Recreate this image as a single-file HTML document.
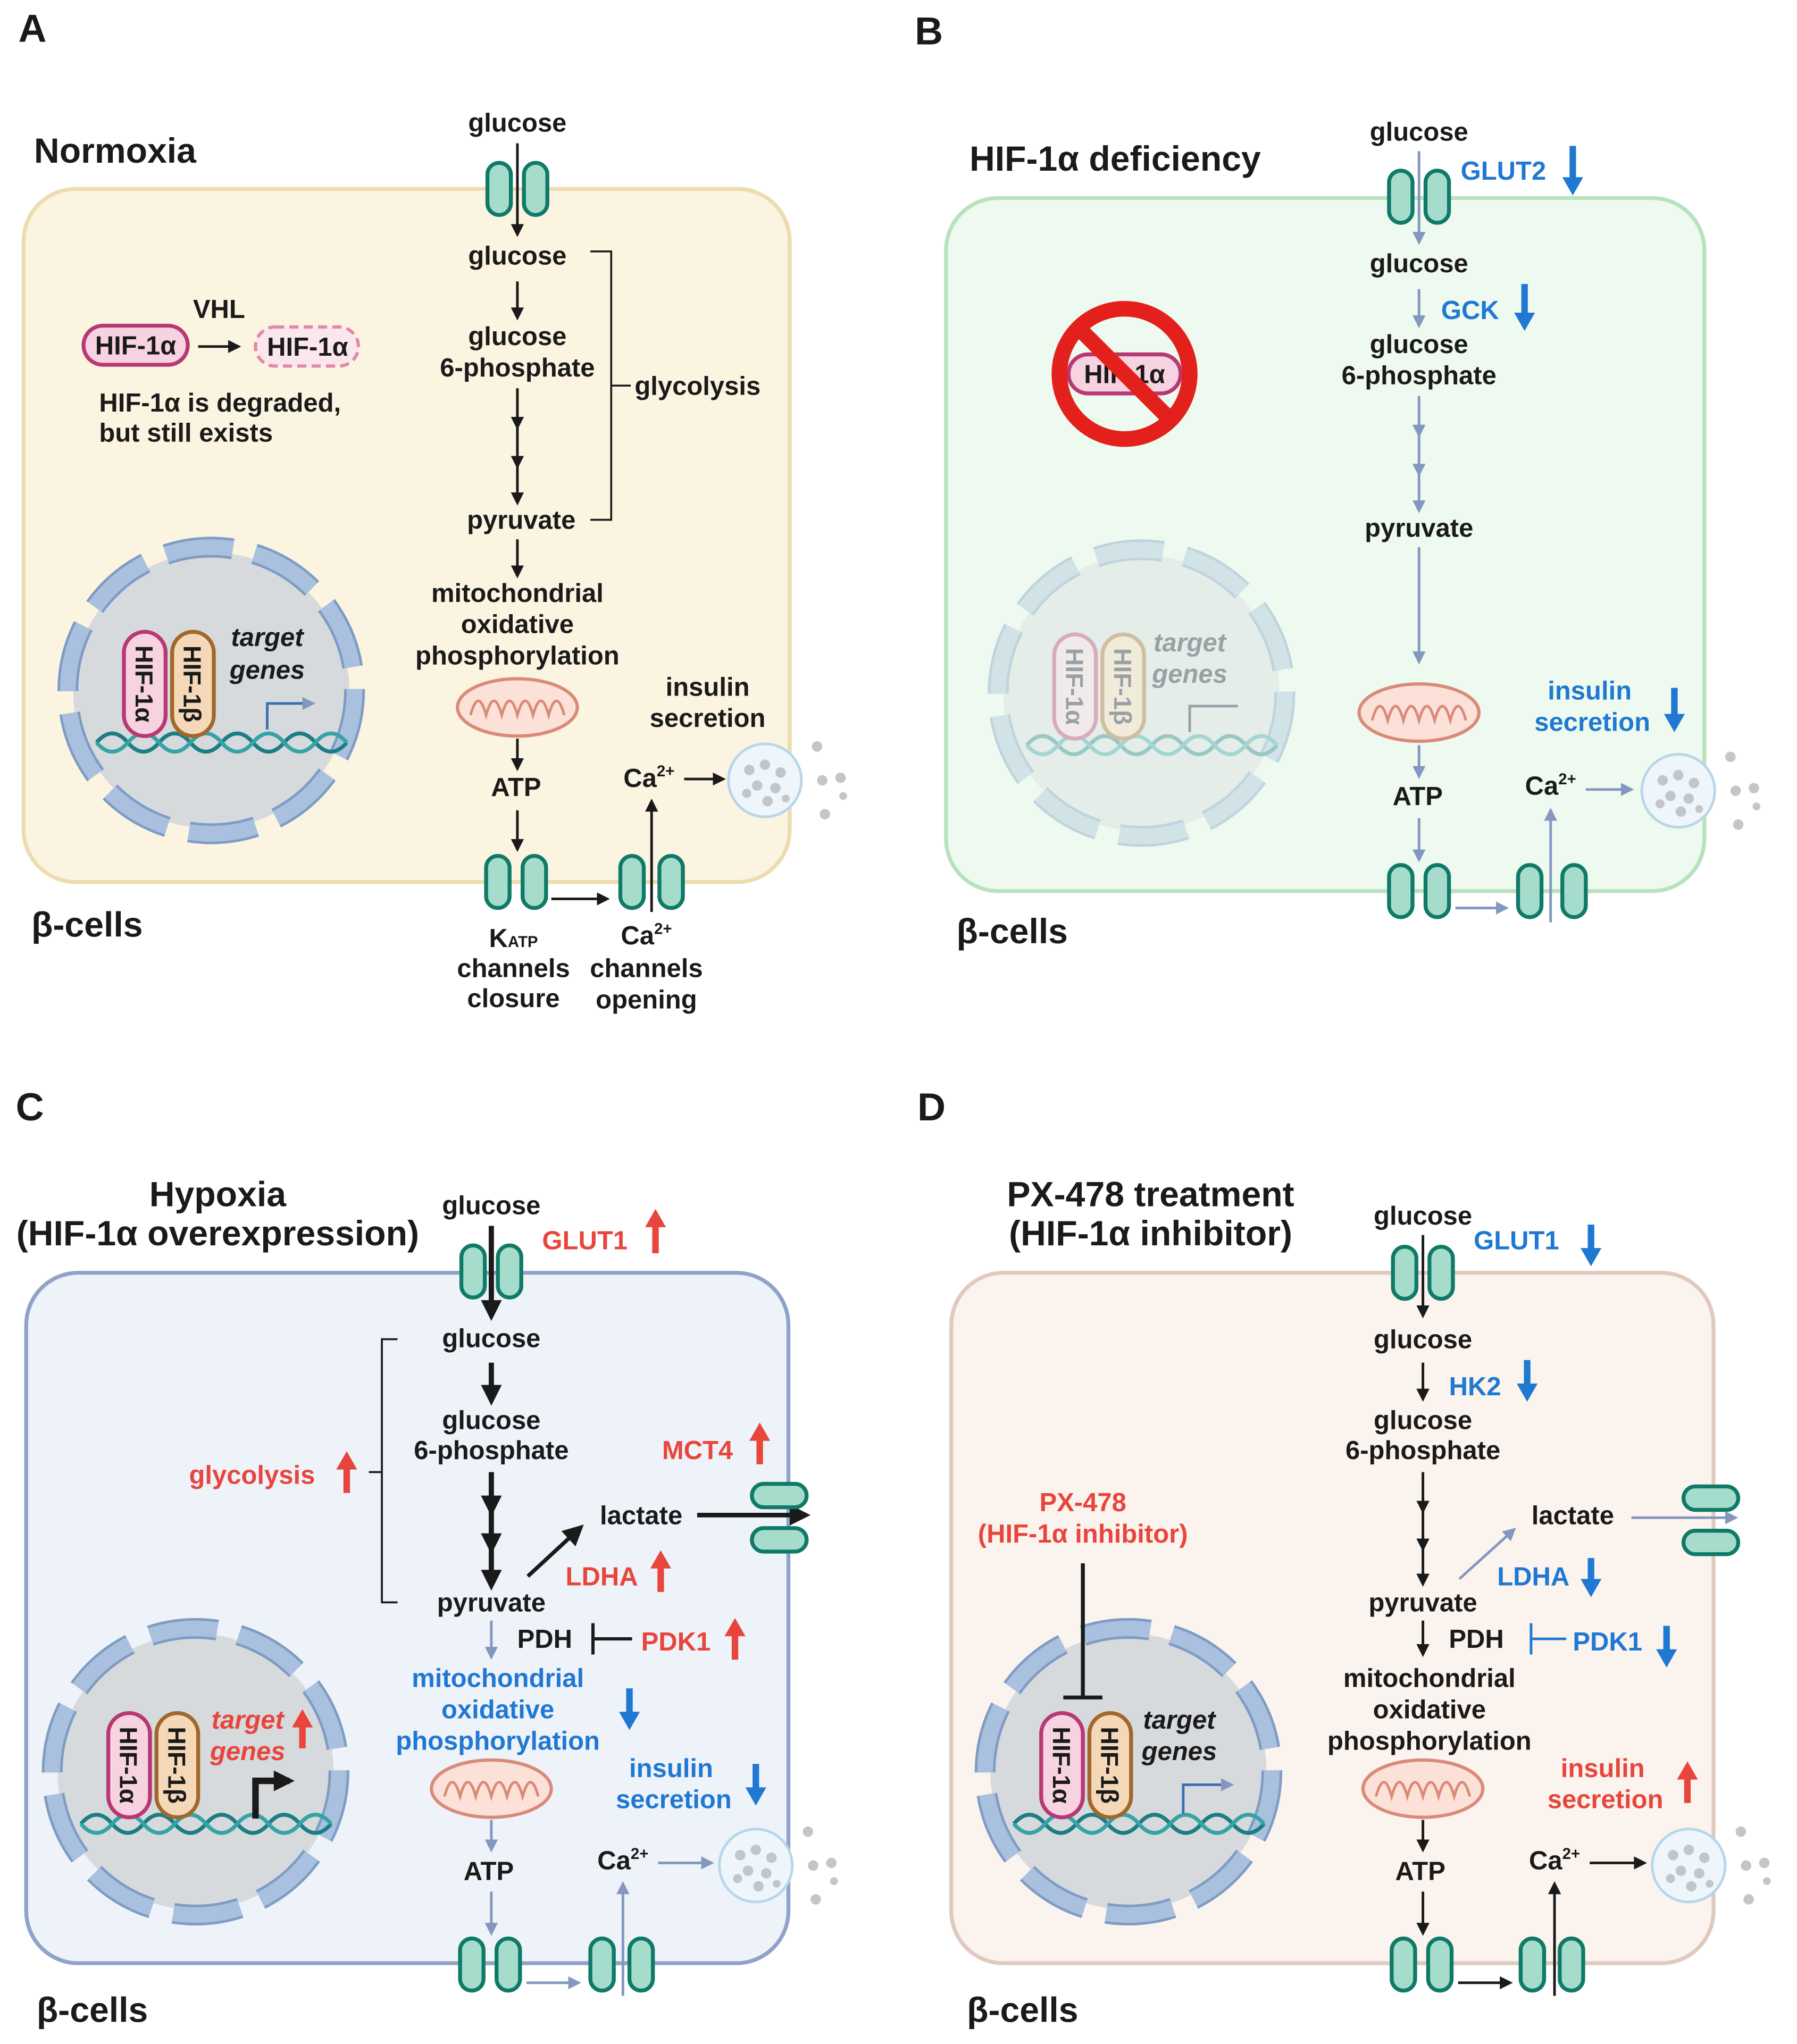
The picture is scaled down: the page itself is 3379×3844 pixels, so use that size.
<!DOCTYPE html>
<html><head><meta charset="utf-8"><style>
html,body{margin:0;padding:0;background:#fff}
svg{display:block}
text{font-family:"Liberation Sans",Arial,sans-serif;font-weight:bold;font-size:20px;text-anchor:middle;fill:#1a1a1a}
.l{text-anchor:start}
.b{fill:#1f78d1}.r{fill:#e8453c}.g{fill:#9aa0a6}
.t{font-size:27px}
.P{font-size:28px;text-anchor:start}
.i{font-style:italic}
</style></head><body>
<svg width="3379" height="3844" viewBox="0 0 1379 1569" xmlns="http://www.w3.org/2000/svg">
<defs>
<marker id="mk" markerWidth="10" markerHeight="10" refX="8" refY="5" orient="auto" markerUnits="userSpaceOnUse"><path d="M0,0L10,5L0,10z" fill="#1a1a1a"/></marker>
<marker id="mg" markerWidth="10" markerHeight="10" refX="8" refY="5" orient="auto" markerUnits="userSpaceOnUse"><path d="M0,0L10,5L0,10z" fill="#8497c0"/></marker>
<marker id="mK" markerWidth="16" markerHeight="16" refX="12" refY="8" orient="auto" markerUnits="userSpaceOnUse"><path d="M0,0L16,8L0,16z" fill="#1a1a1a"/></marker>
<g id="pill"><rect x="-9" y="-20" width="18" height="40" rx="9" fill="#a6dccb" stroke="#0f7a68" stroke-width="3"/></g>
<g id="tp"><use href="#pill" x="-14"/><use href="#pill" x="14"/></g>
<g id="hp"><rect x="-21" y="-9" width="42" height="18" rx="9" fill="#a6dccb" stroke="#0f7a68" stroke-width="3"/></g>
<g id="mito"><ellipse rx="46" ry="22" fill="#fbe1d8" stroke="#d98a78" stroke-width="2.5"/><path d="M-36,6 q6,-22 12,0 q6,-22 12,0 q6,-22 12,0 q6,-22 12,0 q6,-22 12,0 q6,-22 12,0" fill="none" stroke="#d98a78" stroke-width="2"/></g>
<g id="ves"><circle r="28" fill="#eef6fb" stroke="#b8d6ea" stroke-width="2"/>
<g fill="#c2c6ca"><circle cx="-12" cy="-8" r="4"/><circle cx="0" cy="-12" r="4"/><circle cx="12" cy="-6" r="4"/><circle cx="-6" cy="4" r="4"/><circle cx="8" cy="6" r="4"/><circle cx="-14" cy="10" r="3.5"/><circle cx="2" cy="16" r="4"/><circle cx="16" cy="14" r="3"/></g>
<g fill="#c2c6ca"><circle cx="40" cy="-26" r="4"/><circle cx="44" cy="0" r="4"/><circle cx="58" cy="-2" r="4"/><circle cx="46" cy="26" r="4"/><circle cx="60" cy="12" r="3"/></g></g>
<g id="nuc"><circle r="106" fill="#d7dadd"/><circle r="110" fill="none" stroke="#7e9cc4" stroke-width="16" stroke-dasharray="52 17"/><circle r="110" fill="none" stroke="#a9c1de" stroke-width="12" stroke-dasharray="52 17"/>
<path d="M-88,40 q12,-14 24,0 t24,0 t24,0 t24,0 t24,0 t24,0 t24,0 t24,0" fill="none" stroke="#1d7d86" stroke-width="3"/>
<path d="M-88,40 q12,14 24,0 t24,0 t24,0 t24,0 t24,0 t24,0 t24,0 t24,0" fill="none" stroke="#36a3a6" stroke-width="3"/>
<rect x="-67" y="-45" width="32" height="80" rx="16" fill="#f7d3e2" stroke="#b83873" stroke-width="3"/>
<rect x="-30" y="-45" width="32" height="80" rx="16" fill="#f5d8b8" stroke="#a2672a" stroke-width="3"/></g>
</defs>

<!-- PANEL A -->
<text x="14" y="32" class="P" style="font-size:30px">A</text>
<text x="26" y="125" class="t l">Normoxia</text>
<rect x="18" y="145" width="588" height="532" rx="40" fill="#fbf4e0" stroke="#ecdcae" stroke-width="3"/>
<text x="24" y="719" class="t l">β-cells</text>
<text x="397" y="101">glucose</text>
<use href="#tp" x="397" y="145"/>
<line x1="397" y1="110" x2="397" y2="180" stroke="#1a1a1a" stroke-width="2" marker-end="url(#mk)"/>
<text x="397" y="203">glucose</text>
<line x1="397" y1="216" x2="397" y2="244" stroke="#1a1a1a" stroke-width="2" marker-end="url(#mk)"/>
<text x="397" y="265">glucose</text><text x="397" y="289">6-phosphate</text>
<g stroke="#1a1a1a" stroke-width="2"><line x1="397" y1="298" x2="397" y2="328" marker-end="url(#mk)"/><line x1="397" y1="328" x2="397" y2="358" marker-end="url(#mk)"/><line x1="397" y1="358" x2="397" y2="386" marker-end="url(#mk)"/></g>
<text x="400" y="406">pyruvate</text>
<path d="M453,193H469V399H453M469,296H484" fill="none" stroke="#1a1a1a" stroke-width="1.5"/>
<text x="487" y="303" class="l">glycolysis</text>
<line x1="397" y1="414" x2="397" y2="442" stroke="#1a1a1a" stroke-width="2" marker-end="url(#mk)"/>
<text x="397" y="462">mitochondrial</text><text x="397" y="486">oxidative</text><text x="397" y="510">phosphorylation</text>
<use href="#mito" x="397" y="543"/>
<line x1="397" y1="567" x2="397" y2="590" stroke="#1a1a1a" stroke-width="2" marker-end="url(#mk)"/>
<text x="396" y="611">ATP</text>
<line x1="397" y1="622" x2="397" y2="652" stroke="#1a1a1a" stroke-width="2" marker-end="url(#mk)"/>
<use href="#tp" x="396" y="677"/>
<use href="#pill" x="485" y="677"/><use href="#pill" x="515" y="677"/>
<line x1="423" y1="690" x2="466" y2="690" stroke="#1a1a1a" stroke-width="2" marker-end="url(#mk)"/>
<line x1="500" y1="700" x2="500" y2="615" stroke="#1a1a1a" stroke-width="2" marker-end="url(#mk)"/>
<text x="394" y="727">K<tspan font-size="12">ATP</tspan></text><text x="394" y="750">channels</text><text x="394" y="773">closure</text>
<text x="496" y="725">Ca<tspan font-size="12" dy="-8">2+</tspan></text><text x="496" y="750">channels</text><text x="496" y="774">opening</text>
<text x="498" y="604">Ca<tspan font-size="12" dy="-8">2+</tspan></text>
<line x1="525" y1="598" x2="555" y2="598" stroke="#1a1a1a" stroke-width="2" marker-end="url(#mk)"/>
<use href="#ves" x="587" y="599"/>
<text x="543" y="534">insulin</text><text x="543" y="558">secretion</text>
<rect x="64" y="250" width="80" height="30" rx="15" fill="#f7d3e2" stroke="#b83873" stroke-width="3"/>
<text x="104" y="272">HIF-1α</text>
<line x1="152" y1="266" x2="183" y2="266" stroke="#1a1a1a" stroke-width="2" marker-end="url(#mk)"/>
<text x="168" y="244">VHL</text>
<rect x="196" y="251" width="79" height="30" rx="15" fill="#fbe6ee" stroke="#e08aa8" stroke-width="2.5" stroke-dasharray="7 4"/>
<text x="236" y="273">HIF-1α</text>
<text x="76" y="316" class="l">HIF-1α is degraded,</text><text x="76" y="339" class="l">but still exists</text>
<use href="#nuc" x="162" y="530"/>
<text transform="translate(104,525) rotate(90)" style="font-size:19px">HIF-1α</text>
<text transform="translate(141,525) rotate(90)" style="font-size:19px">HIF-1β</text>
<text x="205" y="496" class="i">target</text><text x="205" y="521" class="i">genes</text>
<path d="M205,560V540H240" fill="none" stroke="#3a6fb5" stroke-width="2" marker-end="url(#mg)"/>

<!-- PANEL B -->
<text x="702" y="34" class="P" style="font-size:30px">B</text>
<text x="744" y="131" class="t l">HIF-1α deficiency</text>
<rect x="726" y="152" width="582" height="532" rx="40" fill="#eefaf0" stroke="#b8e2bc" stroke-width="3"/>
<text x="734" y="724" class="t l">β-cells</text>
<text x="1089" y="108">glucose</text>
<use href="#tp" x="1089" y="151"/>
<line x1="1089" y1="116" x2="1089" y2="186" stroke="#8497c0" stroke-width="2" marker-end="url(#mg)"/>
<text x="1121" y="138" class="b l">GLUT2</text>
<path d="M1207,112V140" stroke="#1f78d1" stroke-width="5"/><path d="M1199,136L1207,150L1215,136z" fill="#1f78d1"/>
<text x="1089" y="209">glucose</text>
<line x1="1089" y1="222" x2="1089" y2="250" stroke="#8497c0" stroke-width="2" marker-end="url(#mg)"/>
<text x="1106" y="245" class="b l">GCK</text>
<path d="M1170,218V244" stroke="#1f78d1" stroke-width="5"/><path d="M1162,240L1170,254L1178,240z" fill="#1f78d1"/>
<text x="1089" y="271">glucose</text><text x="1089" y="295">6-phosphate</text>
<g stroke="#8497c0" stroke-width="2"><line x1="1089" y1="304" x2="1089" y2="334" marker-end="url(#mg)"/><line x1="1089" y1="334" x2="1089" y2="364" marker-end="url(#mg)"/><line x1="1089" y1="364" x2="1089" y2="392" marker-end="url(#mg)"/></g>
<text x="1089" y="412">pyruvate</text>
<line x1="1089" y1="420" x2="1089" y2="508" stroke="#8497c0" stroke-width="2" marker-end="url(#mg)"/>
<use href="#mito" x="1089" y="547"/>
<line x1="1089" y1="572" x2="1089" y2="596" stroke="#8497c0" stroke-width="2" marker-end="url(#mg)"/>
<text x="1088" y="618">ATP</text>
<line x1="1089" y1="628" x2="1089" y2="660" stroke="#8497c0" stroke-width="2" marker-end="url(#mg)"/>
<use href="#tp" x="1089" y="684"/>
<use href="#pill" x="1174" y="684"/><use href="#pill" x="1208" y="684"/>
<line x1="1117" y1="697" x2="1156" y2="697" stroke="#8497c0" stroke-width="2" marker-end="url(#mg)"/>
<line x1="1190" y1="708" x2="1190" y2="622" stroke="#8497c0" stroke-width="2" marker-end="url(#mg)"/>
<text x="1190" y="610">Ca<tspan font-size="12" dy="-8">2+</tspan></text>
<line x1="1217" y1="606" x2="1252" y2="606" stroke="#8497c0" stroke-width="2" marker-end="url(#mg)"/>
<use href="#ves" x="1288" y="607"/>
<text x="1220" y="537" class="b">insulin</text><text x="1222" y="561" class="b">secretion</text>
<path d="M1285,528V552" stroke="#1f78d1" stroke-width="5"/><path d="M1277,548L1285,562L1293,548z" fill="#1f78d1"/>
<g opacity="0.4"><use href="#nuc" x="876" y="532"/></g>
<text transform="translate(818,527) rotate(90)" style="font-size:19px" class="g">HIF-1α</text>
<text transform="translate(855,527) rotate(90)" style="font-size:19px" class="g">HIF-1β</text>
<text x="913" y="500" class="i g">target</text><text x="913" y="524" class="i g">genes</text>
<path d="M913,562V542H950" fill="none" stroke="#9aa0a6" stroke-width="2"/>
<rect x="820" y="272" width="86" height="30" rx="15" fill="#f7d3e2" stroke="#b83873" stroke-width="3"/>
<text x="863" y="294">HIF-1α</text>
<circle cx="863" cy="287" r="50" fill="none" stroke="#e3201b" stroke-width="12"/>
<line x1="828" y1="252" x2="898" y2="322" stroke="#e3201b" stroke-width="12"/>

<!-- PANEL C -->
<text x="12" y="860" class="P" style="font-size:30px">C</text>
<text x="167" y="926" class="t">Hypoxia</text><text x="167" y="956" class="t">(HIF-1α overexpression)</text>
<rect x="20" y="977" width="585" height="530" rx="40" fill="#eef2f9" stroke="#8fa3c8" stroke-width="3"/>
<text x="28" y="1552" class="t l">β-cells</text>
<text x="377" y="932">glucose</text>
<use href="#tp" x="377" y="976"/>
<line x1="377" y1="941" x2="377" y2="1010" stroke="#1a1a1a" stroke-width="4" marker-end="url(#mK)"/>
<text x="416" y="959" class="r l">GLUT1</text>
<path d="M503,962V938" stroke="#e8453c" stroke-width="5"/><path d="M495,942L503,928L511,942z" fill="#e8453c"/>
<text x="377" y="1034">glucose</text>
<line x1="377" y1="1046" x2="377" y2="1075" stroke="#1a1a1a" stroke-width="4" marker-end="url(#mK)"/>
<text x="377" y="1097">glucose</text><text x="377" y="1120">6-phosphate</text>
<g stroke="#1a1a1a" stroke-width="4"><line x1="377" y1="1130" x2="377" y2="1160" marker-end="url(#mK)"/><line x1="377" y1="1160" x2="377" y2="1189" marker-end="url(#mK)"/><line x1="377" y1="1189" x2="377" y2="1217" marker-end="url(#mK)"/></g>
<text x="377" y="1237">pyruvate</text>
<path d="M305,1028H293V1230H305M293,1130H283" fill="none" stroke="#1a1a1a" stroke-width="1.5"/>
<text x="145" y="1139" class="r l">glycolysis</text>
<path d="M266,1146V1124" stroke="#e8453c" stroke-width="5"/><path d="M258,1128L266,1114L274,1128z" fill="#e8453c"/>
<line x1="405" y1="1210" x2="445" y2="1173" stroke="#1a1a1a" stroke-width="3" marker-end="url(#mK)"/>
<text x="492" y="1170">lactate</text>
<line x1="535" y1="1163" x2="618" y2="1163" stroke="#1a1a1a" stroke-width="3.5" marker-end="url(#mK)"/>
<use href="#hp" x="598" y="1148"/><use href="#hp" x="598" y="1182"/>
<text x="508" y="1120" class="r l">MCT4</text>
<path d="M583,1124V1102" stroke="#e8453c" stroke-width="5"/><path d="M575,1106L583,1092L591,1106z" fill="#e8453c"/>
<text x="434" y="1217" class="r l">LDHA</text>
<path d="M507,1222V1200" stroke="#e8453c" stroke-width="5"/><path d="M499,1204L507,1190L515,1204z" fill="#e8453c"/>
<line x1="377" y1="1244" x2="377" y2="1272" stroke="#8497c0" stroke-width="2" marker-end="url(#mg)"/>
<text x="418" y="1265">PDH</text>
<path d="M455,1246V1270M455,1258H485" stroke="#1a1a1a" stroke-width="2.5"/>
<text x="492" y="1267" class="r l">PDK1</text>
<path d="M564,1274V1252" stroke="#e8453c" stroke-width="5"/><path d="M556,1256L564,1242L572,1256z" fill="#e8453c"/>
<text x="382" y="1295" class="b">mitochondrial</text><text x="382" y="1319" class="b">oxidative</text><text x="382" y="1343" class="b">phosphorylation</text>
<path d="M483,1296V1318" stroke="#1f78d1" stroke-width="5"/><path d="M475,1314L483,1328L491,1314z" fill="#1f78d1"/>
<use href="#mito" x="377" y="1373"/>
<line x1="377" y1="1397" x2="377" y2="1420" stroke="#8497c0" stroke-width="2" marker-end="url(#mg)"/>
<text x="375" y="1443">ATP</text>
<line x1="377" y1="1452" x2="377" y2="1484" stroke="#8497c0" stroke-width="2" marker-end="url(#mg)"/>
<use href="#tp" x="376" y="1508"/>
<use href="#pill" x="462" y="1508"/><use href="#pill" x="492" y="1508"/>
<line x1="404" y1="1522" x2="444" y2="1522" stroke="#8497c0" stroke-width="2" marker-end="url(#mg)"/>
<line x1="478" y1="1532" x2="478" y2="1446" stroke="#8497c0" stroke-width="2" marker-end="url(#mg)"/>
<text x="478" y="1435">Ca<tspan font-size="12" dy="-8">2+</tspan></text>
<line x1="505" y1="1430" x2="546" y2="1430" stroke="#8497c0" stroke-width="2" marker-end="url(#mg)"/>
<use href="#ves" x="580" y="1432"/>
<text x="515" y="1364" class="b">insulin</text><text x="517" y="1388" class="b">secretion</text>
<path d="M580,1354V1376" stroke="#1f78d1" stroke-width="5"/><path d="M572,1372L580,1386L588,1372z" fill="#1f78d1"/>
<use href="#nuc" x="150" y="1360"/>
<text transform="translate(92,1355) rotate(90)" style="font-size:19px">HIF-1α</text>
<text transform="translate(129,1355) rotate(90)" style="font-size:19px">HIF-1β</text>
<text x="190" y="1327" class="i r">target</text><text x="190" y="1351" class="i r">genes</text>
<path d="M232,1342V1322" stroke="#e8453c" stroke-width="5"/><path d="M224,1326L232,1312L240,1326z" fill="#e8453c"/>
<path d="M196,1396V1367H222" fill="none" stroke="#1a1a1a" stroke-width="5" marker-end="url(#mK)"/>

<!-- PANEL D -->
<text x="704" y="860" class="P" style="font-size:30px">D</text>
<text x="883" y="926" class="t">PX-478 treatment</text><text x="883" y="956" class="t">(HIF-1α inhibitor)</text>
<rect x="730" y="977" width="585" height="530" rx="40" fill="#fbf3ee" stroke="#e0c9bd" stroke-width="3"/>
<text x="742" y="1552" class="t l">β-cells</text>
<text x="1092" y="940">glucose</text>
<use href="#tp" x="1092" y="977"/>
<line x1="1092" y1="948" x2="1092" y2="1010" stroke="#1a1a1a" stroke-width="2" marker-end="url(#mk)"/>
<text x="1131" y="959" class="b l">GLUT1</text>
<path d="M1221,940V962" stroke="#1f78d1" stroke-width="5"/><path d="M1213,958L1221,972L1229,958z" fill="#1f78d1"/>
<text x="1092" y="1035">glucose</text>
<line x1="1092" y1="1046" x2="1092" y2="1074" stroke="#1a1a1a" stroke-width="2" marker-end="url(#mk)"/>
<text x="1112" y="1071" class="b l">HK2</text>
<path d="M1172,1044V1066" stroke="#1f78d1" stroke-width="5"/><path d="M1164,1062L1172,1076L1180,1062z" fill="#1f78d1"/>
<text x="1092" y="1097">glucose</text><text x="1092" y="1120">6-phosphate</text>
<g stroke="#1a1a1a" stroke-width="2"><line x1="1092" y1="1130" x2="1092" y2="1160" marker-end="url(#mk)"/><line x1="1092" y1="1160" x2="1092" y2="1189" marker-end="url(#mk)"/><line x1="1092" y1="1189" x2="1092" y2="1216" marker-end="url(#mk)"/></g>
<text x="1092" y="1237">pyruvate</text>
<line x1="1120" y1="1212" x2="1162" y2="1174" stroke="#8497c0" stroke-width="2" marker-end="url(#mg)"/>
<text x="1207" y="1170">lactate</text>
<line x1="1252" y1="1165" x2="1332" y2="1165" stroke="#8497c0" stroke-width="2" marker-end="url(#mg)"/>
<use href="#hp" x="1313" y="1150"/><use href="#hp" x="1313" y="1184"/>
<text x="1149" y="1217" class="b l">LDHA</text>
<path d="M1221,1196V1216" stroke="#1f78d1" stroke-width="5"/><path d="M1213,1212L1221,1226L1229,1212z" fill="#1f78d1"/>
<line x1="1092" y1="1244" x2="1092" y2="1270" stroke="#1a1a1a" stroke-width="2" marker-end="url(#mk)"/>
<text x="1133" y="1265">PDH</text>
<path d="M1175,1246V1270M1175,1258H1202" stroke="#1f78d1" stroke-width="2"/>
<text x="1207" y="1267" class="b l">PDK1</text>
<path d="M1279,1248V1270" stroke="#1f78d1" stroke-width="5"/><path d="M1271,1266L1279,1280L1287,1266z" fill="#1f78d1"/>
<text x="1097" y="1295">mitochondrial</text><text x="1097" y="1319">oxidative</text><text x="1097" y="1343">phosphorylation</text>
<use href="#mito" x="1092" y="1373"/>
<line x1="1092" y1="1397" x2="1092" y2="1420" stroke="#1a1a1a" stroke-width="2" marker-end="url(#mk)"/>
<text x="1090" y="1443">ATP</text>
<line x1="1092" y1="1452" x2="1092" y2="1484" stroke="#1a1a1a" stroke-width="2" marker-end="url(#mk)"/>
<use href="#tp" x="1091" y="1508"/>
<use href="#pill" x="1176" y="1508"/><use href="#pill" x="1206" y="1508"/>
<line x1="1119" y1="1522" x2="1159" y2="1522" stroke="#1a1a1a" stroke-width="2" marker-end="url(#mk)"/>
<line x1="1193" y1="1532" x2="1193" y2="1446" stroke="#1a1a1a" stroke-width="2" marker-end="url(#mk)"/>
<text x="1193" y="1435">Ca<tspan font-size="12" dy="-8">2+</tspan></text>
<line x1="1220" y1="1430" x2="1262" y2="1430" stroke="#1a1a1a" stroke-width="2" marker-end="url(#mk)"/>
<use href="#ves" x="1296" y="1432"/>
<text x="1230" y="1364" class="r">insulin</text><text x="1232" y="1388" class="r">secretion</text>
<path d="M1295,1384V1362" stroke="#e8453c" stroke-width="5"/><path d="M1287,1366L1295,1352L1303,1366z" fill="#e8453c"/>
<text x="831" y="1160" class="r">PX-478</text><text x="831" y="1184" class="r">(HIF-1α inhibitor)</text>
<use href="#nuc" x="866" y="1360"/>
<path d="M831,1200V1303M816,1303H846" stroke="#1a1a1a" stroke-width="3"/>
<text transform="translate(808,1355) rotate(90)" style="font-size:19px">HIF-1α</text>
<text transform="translate(845,1355) rotate(90)" style="font-size:19px">HIF-1β</text>
<text x="905" y="1327" class="i">target</text><text x="905" y="1351" class="i">genes</text>
<path d="M908,1392V1370H945" fill="none" stroke="#3a6fb5" stroke-width="2" marker-end="url(#mg)"/>
</svg>
</body></html>
